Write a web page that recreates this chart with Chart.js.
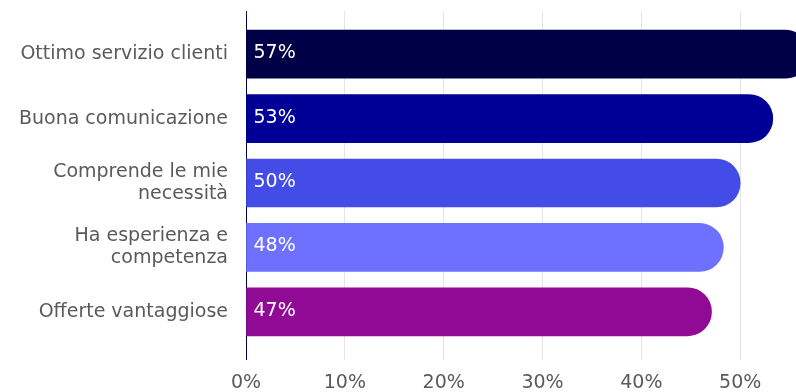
<!DOCTYPE html>
<html>
<head>
<meta charset="utf-8">
<script src="https://cdn.jsdelivr.net/npm/chart.js@4"></script>
<style>
  html, body { margin: 0; padding: 0; background: #fff; overflow: hidden; }
  #wrap { width: 839px; height: 392px; }
</style>
</head>
<body>
<div id="wrap"><canvas id="myChart"></canvas></div>
<script>
// dati
const categories = [
    'Ottimo servizio clienti',
    'Buona comunicazione',
    ['Comprende le mie', 'necessità'],
    ['Ha esperienza e', 'competenza'],
    'Offerte vantaggiose'
];
const values = [57, 53.3, 50, 48.3, 47.1];
const valueLabels = ['57%', '53%', '50%', '48%', '47%'];
const barColors = ['#000046', '#000096', '#444ce8', '#6e70ff', '#910a96'];
const tickValues = [0, 10, 20, 30, 40, 50];

const navy = '#000046';
const fontFamily = '"DejaVu Sans", sans-serif';

function gridColor(ctx) {
    return ctx.tick && ctx.tick.value === 0 ? navy : '#e4e4e4';
}

// etichette dentro le barre
const barLabels = {
    id: 'barLabels',
    afterDatasetsDraw(chart) {
        const ctx = chart.ctx;
        const meta = chart.getDatasetMeta(0);
        ctx.save();
        ctx.font = '19px ' + fontFamily;
        ctx.fillStyle = '#ffffff';
        ctx.textBaseline = 'middle';
        ctx.textAlign = 'left';
        meta.data.forEach((bar, i) => {
            ctx.fillText(valueLabels[i], bar.base + 7, bar.y - 1);
        });
        ctx.restore();
    }
};

const myChart = new Chart(document.getElementById('myChart'), {
    type: 'bar',
    data: {
        labels: categories,
        datasets: [{
            data: values,
            backgroundColor: barColors,
            barThickness: 48,
            borderRadius: { topRight: 24, bottomRight: 24 },
            borderSkipped: 'start'
        }]
    },
    options: {
        indexAxis: 'y',
        responsive: true,
        maintainAspectRatio: false,
        animation: false,
        layout: { padding: { top: 11, right: 0, bottom: 0, left: 0 } },
        plugins: {
            legend: { display: false },
            tooltip: { enabled: false }
        },
        scales: {
            x: {
                type: 'linear',
                position: 'bottom',
                min: 0,
                max: 60,
                afterBuildTicks: s => { s.ticks = tickValues.map(v => ({ value: v })); },
                afterFit: s => {
                    s.height = 48;
                    s.paddingLeft = 0;
                    s.paddingRight = 0;
                },
                grid: { color: gridColor, tickLength: 16, lineWidth: 1 },
                border: { display: false },
                ticks: {
                    padding: 12,
                    color: '#5a5a5a',
                    font: { family: fontFamily, size: 19 },
                    callback: v => v + '%'
                }
            },
            x2: {
                type: 'linear',
                position: 'top',
                min: 0,
                max: 60,
                afterBuildTicks: s => { s.ticks = tickValues.map(v => ({ value: v })); },
                afterFit: s => { s.height = 11; },
                grid: { color: gridColor, tickLength: 11, drawOnChartArea: false },
                border: { display: false },
                ticks: { display: false }
            },
            y: {
                z: 1,
                afterFit: s => {
                    s.width = 246;
                    s.paddingTop = 0;
                    s.paddingBottom = 0;
                },
                grid: { display: false, drawTicks: false },
                border: { display: true, color: navy, width: 1 },
                ticks: {
                    padding: 18,
                    color: '#5a5a5a',
                    font: { family: fontFamily, size: 19, lineHeight: 1.16 }
                }
            }
        }
    },
    plugins: [barLabels]
});
</script>
</body>
</html>
